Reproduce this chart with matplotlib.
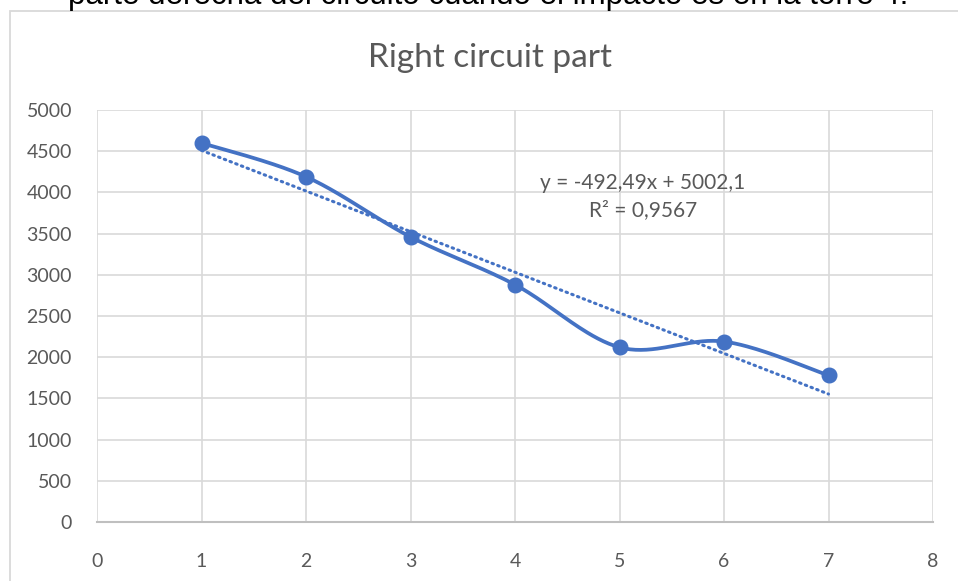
import numpy as np
import matplotlib.pyplot as plt
from matplotlib.patches import Rectangle

# datos
x_vals = [1, 2, 3, 4, 5, 6, 7]
y_vals = [4600, 4190, 3460, 2880, 2120, 2190, 1780]
y_ticks = [0, 500, 1000, 1500, 2000, 2500, 3000, 3500, 4000, 4500, 5000]
x_ticks = [0, 1, 2, 3, 4, 5, 6, 7, 8]
titulo = "Right circuit part"
texto_arriba = "parte derecha del circuito cuando el impacto es en la torre 4."
ecuacion = "y = -492,49x + 5002,1"
r2_txt = "R² = 0,9567"

azul = '#4472C4'
gris = '#595959'

plt.rcParams['font.family'] = ['Lato', 'DejaVu Sans']


def suavizar(xs, ys, n=40):
    # curva tipo excel (catmull-rom con bezier)
    xs = np.asarray(xs, float)
    ys = np.asarray(ys, float)
    pts = np.column_stack([xs, ys])
    out = []
    for i in range(len(pts) - 1):
        p0 = pts[i - 1] if i > 0 else pts[i]
        p1 = pts[i]
        p2 = pts[i + 1]
        p3 = pts[i + 2] if i + 2 < len(pts) else pts[i + 1]
        c1 = p1 + (p2 - p0) / 6
        c2 = p2 - (p3 - p1) / 6
        t = np.linspace(0, 1, n)[:, None]
        seg = (1 - t) ** 3 * p1 + 3 * (1 - t) ** 2 * t * c1 + 3 * (1 - t) * t ** 2 * c2 + t ** 3 * p2
        out.append(seg)
    out = np.vstack(out)
    return out[:, 0], out[:, 1]


fig = plt.figure(figsize=(9.58, 5.81), dpi=100)
ax = fig.add_axes([97 / 958, 1 - 522 / 581, (933 - 97) / 958, (522 - 110) / 581])

# marco del grafico (se sale por la derecha y abajo)
top_marco = 1 - 11 / 581
fig.patches.append(Rectangle((10 / 958, -0.1), 1.2, top_marco + 0.1, transform=fig.transFigure,
                             fill=False, edgecolor='#d9d9d9', linewidth=1.3))

sx, sy = suavizar(x_vals, y_vals)
ax.plot(sx, sy, color=azul, linewidth=2.7, solid_capstyle='round', zorder=3)
ax.plot(x_vals, y_vals, 'o', color=azul, markersize=10.5, zorder=4)

# linea de tendencia
a, b = np.polyfit(x_vals, y_vals, 1)
xt = np.array([x_vals[0], x_vals[-1]])
ax.plot(xt, a * xt + b, color=azul, linewidth=2.2, linestyle=(0, (0.5, 1.5)),
        dash_capstyle='round', zorder=2)

ax.set_xlim(0, 8)
ax.set_ylim(0, 5000)
ax.set_xticks(x_ticks)
ax.set_yticks(y_ticks)
ax.grid(True, color='#d9d9d9', linewidth=1.2)
ax.set_axisbelow(True)
for s in ['top', 'right', 'left']:
    ax.spines[s].set_visible(False)
ax.spines['bottom'].set_color('#bfbfbf')
ax.spines['bottom'].set_linewidth(1.5)
ax.tick_params(length=0, colors=gris, labelsize=14)
ax.tick_params(axis='x', pad=22)
ax.tick_params(axis='y', pad=18)

fig.text(490 / 958, 1 - 58 / 581, titulo, ha='center', va='center', fontsize=24, color=gris)
fig.text(488 / 958, 1 - 4 / 581, texto_arriba, ha='center', va='baseline', fontsize=22.5,
         color='black', family=['Liberation Sans', 'DejaVu Sans'])

ax.text(4.0 + 128 / 104.5, 4120, ecuacion, ha='center', va='center', fontsize=15, color=gris)
ax.text(4.0 + 128 / 104.5, 3780, r2_txt, ha='center', va='center', fontsize=15, color=gris)

fig.savefig('out.png', dpi=100)
